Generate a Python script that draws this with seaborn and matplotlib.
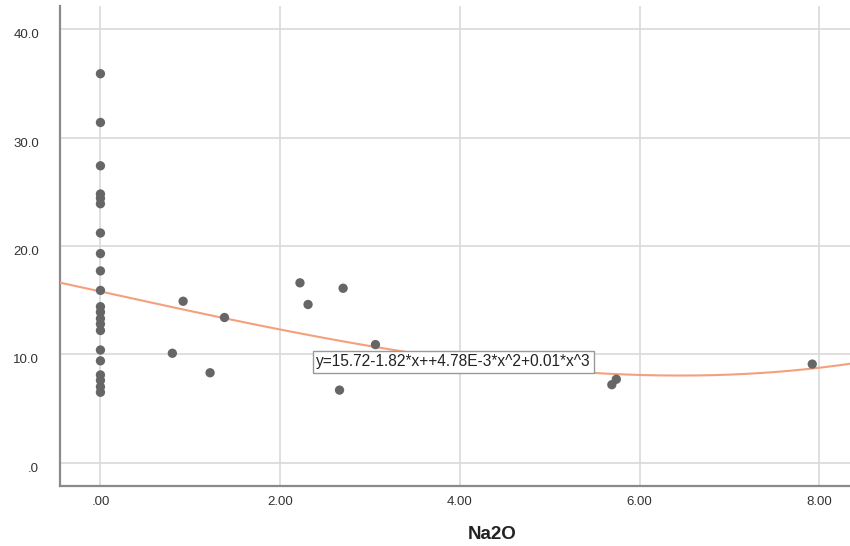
import numpy as np
import pandas as pd
import matplotlib
matplotlib.use("Agg")
import matplotlib.pyplot as plt
import seaborn as sns

# ---- data ----
na2o = [0, 0, 0, 0, 0, 0, 0, 0, 0, 0, 0, 0, 0, 0, 0, 0, 0, 0, 0, 0, 0,
        0.92, 1.38, 0.80, 1.22, 2.22, 2.70, 2.31, 3.06, 2.66,
        5.69, 5.74, 7.92]
yvals = [35.9, 31.4, 27.4, 24.8, 24.4, 23.9, 21.2, 19.3, 17.7, 15.9,
         14.4, 13.9, 13.3, 12.8, 12.2, 10.4, 9.4, 8.1, 7.6, 7.0, 6.5,
         14.9, 13.4, 10.1, 8.3, 16.6, 16.1, 14.6, 10.9, 6.7,
         7.2, 7.7, 9.1]
# cubic fit line as drawn (constant, x, x^2, x^3)
fit_coef = [15.8, -1.82, 0.00478, 0.0141]
fit_label = "y=15.72-1.82*x++4.78E-3*x^2+0.01*x^3"
x_ticks = [0, 2, 4, 6, 8]
x_ticklabels = [".00", "2.00", "4.00", "6.00", "8.00"]
y_ticks = [0, 10, 20, 30, 40]
y_ticklabels = [".0", "10.0", "20.0", "30.0", "40.0"]

df = pd.DataFrame({"Na2O": na2o, "y": yvals})

sns.set_theme(style="white")
plt.rcParams['font.family'] = ['Liberation Sans', 'DejaVu Sans']

fig = plt.figure(figsize=(8.5, 5.46), dpi=100)
ax = fig.add_axes([60/850, 1-486/546, 1-60/850, (486-6)/546])

xmin, xmax = -0.45, 8.34
ymin, ymax = -2.15, 42.15

# fit line
xs = np.linspace(xmin, xmax, 300)
ys = sum(c * xs**i for i, c in enumerate(fit_coef))
fit_df = pd.DataFrame({"x": xs, "y": ys})
sns.lineplot(data=fit_df, x="x", y="y", ax=ax, color="#f4a07e", lw=1.5, zorder=3)

sns.scatterplot(data=df, x="Na2O", y="y", ax=ax, color="#666666", s=45,
                edgecolor="none", zorder=4)

ax.set_xlim(xmin, xmax)
ax.set_ylim(ymin, ymax)
ax.set_xticks(x_ticks)
ax.set_xticklabels(x_ticklabels)
ax.set_yticks(y_ticks)
ax.set_yticklabels(y_ticklabels)
ax.grid(True, color="#d9d9d9", lw=1.2, zorder=0)
ax.set_axisbelow(True)
ax.tick_params(length=0, labelsize=9.5, colors="#333333")
ax.tick_params(axis="x", pad=7)
ax.tick_params(axis="y", pad=15)
for lbl in ax.get_yticklabels():
    lbl.set_va("top")
for s in ["top", "right"]:
    ax.spines[s].set_visible(False)
for s in ["left", "bottom"]:
    ax.spines[s].set_color("#8a8a8a")
    ax.spines[s].set_linewidth(1.6)

ax.set_xlabel("Na2O", fontsize=13.5, fontweight="bold", color="#222222")
ax.xaxis.set_label_coords(0.547, -0.083)
ax.set_ylabel("")

ax.text(3.93, 9.3, fit_label, ha="center", va="center", fontsize=11.2,
        color="#222222", zorder=6,
        bbox=dict(boxstyle="square,pad=0.2", fc="white", ec="#999999", lw=1))

fig.savefig("out.png", dpi=100, facecolor="white")
